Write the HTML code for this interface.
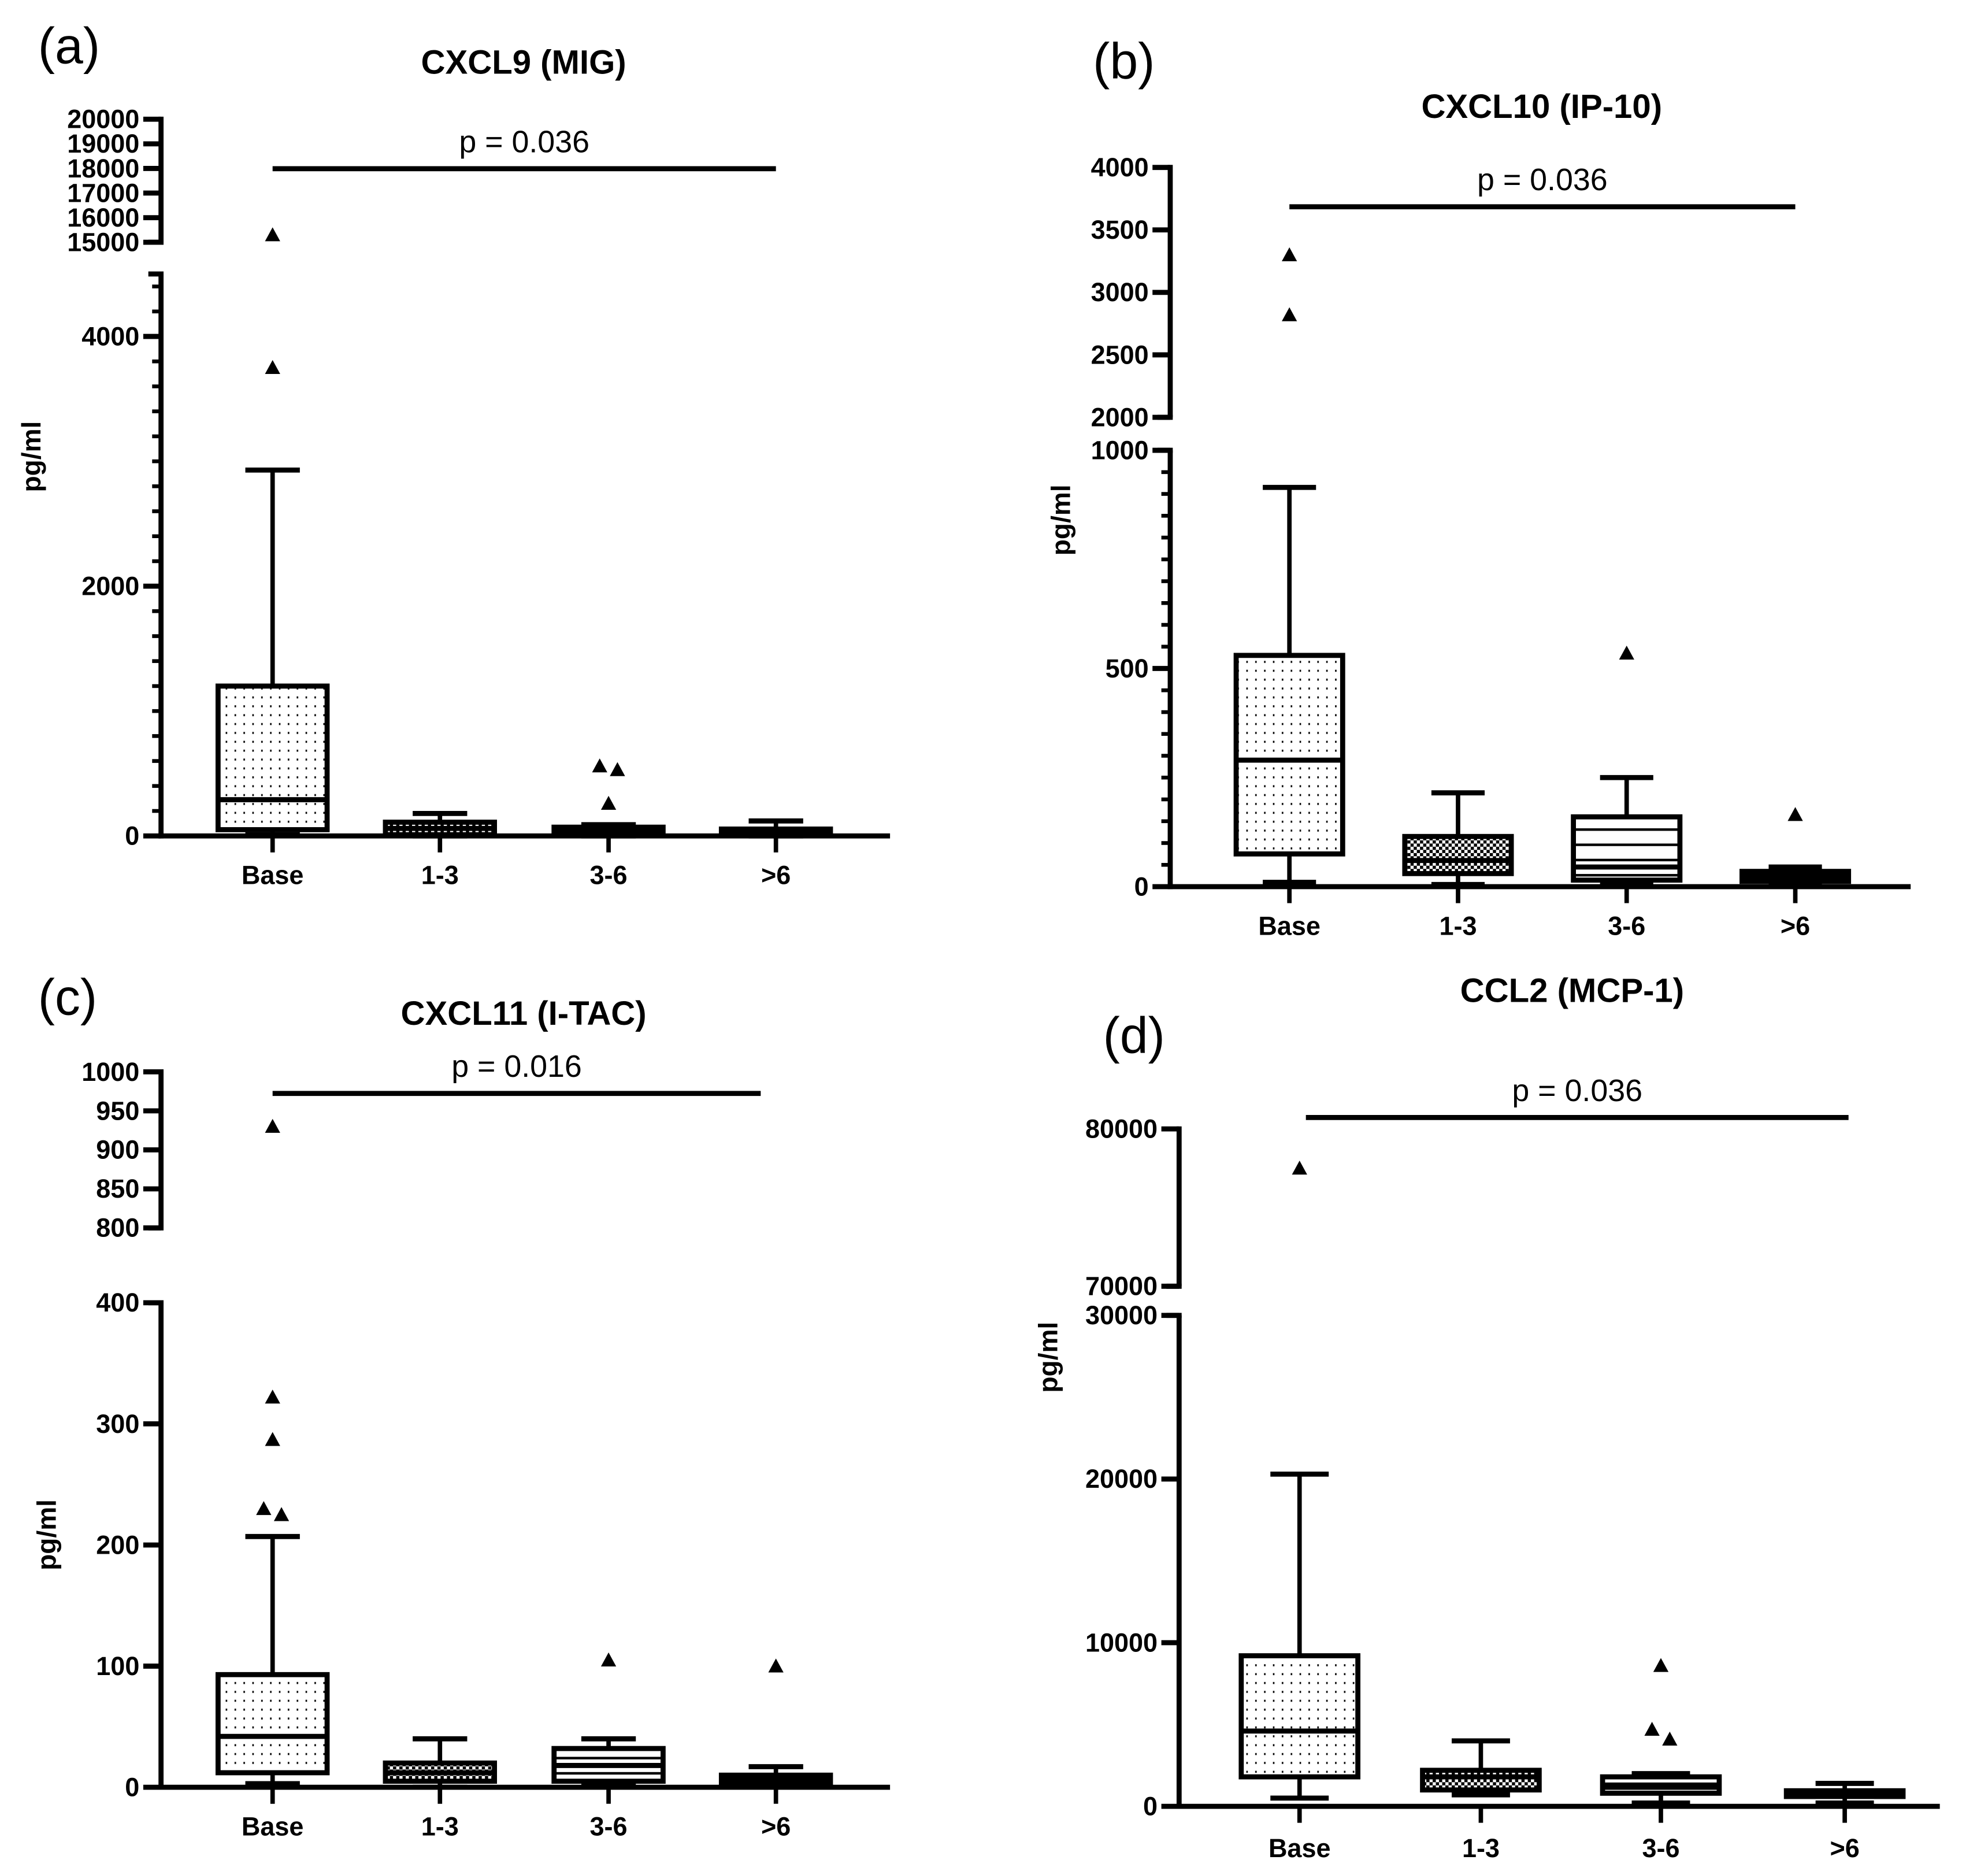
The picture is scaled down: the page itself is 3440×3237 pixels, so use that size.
<!DOCTYPE html>
<html><head><meta charset="utf-8">
<style>
html,body{margin:0;padding:0;background:#fff;}
svg{display:block;}
text{font-family:"Liberation Sans",Arial,sans-serif;fill:#000;}
.b{font-weight:bold;}
</style></head>
<body>
<svg id="fig" width="3440" height="3237" viewBox="0 0 1568 1475" preserveAspectRatio="none" xmlns="http://www.w3.org/2000/svg">
<defs>
<pattern id="dots" patternUnits="userSpaceOnUse" width="7" height="7"><rect width="7" height="7" fill="#fff"/><rect x="3" y="3" width="1.2" height="1.6" fill="#000"/></pattern>
<pattern id="check" patternUnits="userSpaceOnUse" width="5" height="5"><rect width="5" height="5" fill="#000"/><rect x="0" y="0" width="2.5" height="2.5" fill="#fff"/><rect x="2.5" y="2.5" width="2.5" height="2.5" fill="#fff"/></pattern>
<pattern id="hlines" patternUnits="userSpaceOnUse" width="10" height="12"><rect width="10" height="12" fill="#fff"/><rect y="5" width="10" height="2" fill="#000"/></pattern>
<pattern id="solid" patternUnits="userSpaceOnUse" width="4" height="4"><rect width="4" height="4" fill="#000"/></pattern>
</defs>
<g id="root"></g>
</svg>
<script>
const categories = ["Base","1-3","3-6",">6"];
const fills = ["dots","check","hlines","solid"];
// panel a: CXCL9
const aMin=[10,0,0,0], aQ1=[50,10,5,10], aMed=[290,60,40,30], aQ3=[1200,110,70,55], aMax=[2930,180,90,120];
const aOut=[[3750,15300],[],[560,530,260],[]];
// panel b: CXCL10
const bMin=[10,5,8,5], bQ1=[75,30,15,12], bMed=[290,60,45,25], bQ3=[530,115,160,35], bMax=[915,215,250,45];
const bOut=[[2820,3300],[],[535],[165]];
// panel c: CXCL11
const cMin=[3,0,1,0], cQ1=[12,5,5,2], cMed=[42,12,18,5], cQ3=[93,20,32,10], cMax=[207,40,40,17];
const cOut=[[225,230,287,322,930],[],[105],[100]];
// panel d: CCL2
const dMin=[500,700,200,200], dQ1=[1800,1000,800,600], dMed=[4600,1800,1300,800], dQ3=[9200,2200,1800,950], dMax=[20300,4000,2000,1400];
const dOut=[[77500],[],[8600,4700,4100],[]];
const aTicksLow=[0,2000,4000], aTicksHigh=[15000,16000,17000,18000,19000,20000];
const bTicksLow=[0,500,1000], bTicksHigh=[2000,2500,3000,3500,4000];
const cTicksLow=[0,100,200,300,400], cTicksHigh=[800,850,900,950,1000];
const dTicksLow=[0,10000,20000,30000], dTicksHigh=[70000,80000];
const titles=["CXCL9 (MIG)","CXCL10 (IP-10)","CXCL11 (I-TAC)","CCL2 (MCP-1)"];
const pvals=["p = 0.036","p = 0.036","p = 0.016","p = 0.036"];

const NS="http://www.w3.org/2000/svg";
const root=document.getElementById('root');
function mk(tag,attrs,parent){const e=document.createElementNS(NS,tag);for(const k in attrs)e.setAttribute(k,attrs[k]);(parent||root).appendChild(e);return e;}

const panels=[
 {id:'a',label:'(a)',lx:30,ly:50,ax:127,xEnd:702,cx:[215,347,480,612],hw:43,
  low:{v0:0,v1:4500,y0:659,y1:216},high:{v0:15000,v1:20000,y0:191,y1:94},
  tl:aTicksLow,th:aTicksHigh,minor:200,tx:413,ty:58,py:133,pl:[215,612],
  yt:{x:32,y:360},catY:697,data:[aMin,aQ1,aMed,aQ3,aMax,aOut]},
 {id:'b',label:'(b)',lx:862,ly:62,ax:923,xEnd:1507,cx:[1017,1150,1283,1416],hw:42,
  low:{v0:0,v1:1000,y0:699,y1:355},high:{v0:2000,v1:4000,y0:329,y1:132},
  tl:bTicksLow,th:bTicksHigh,minor:50,tx:1216,ty:93,py:163,pl:[1017,1416],
  yt:{x:844,y:410},catY:737,data:[bMin,bQ1,bMed,bQ3,bMax,bOut]},
 {id:'c',label:'(c)',lx:30,ly:800,ax:127,xEnd:702,cx:[215,347,480,612],hw:43,
  low:{v0:0,v1:400,y0:1409,y1:1027},high:{v0:800,v1:1000,y0:968,y1:845},
  tl:cTicksLow,th:cTicksHigh,minor:0,tx:413,ty:808,py:862,pl:[215,600],
  yt:{x:44,y:1210},catY:1447,data:[cMin,cQ1,cMed,cQ3,cMax,cOut]},
 {id:'d',label:'(d)',lx:870,ly:830,ax:930,xEnd:1530,cx:[1025,1168,1310,1455],hw:46,
  low:{v0:0,v1:30000,y0:1424,y1:1037},high:{v0:70000,v1:80000,y0:1014,y1:890},
  tl:dTicksLow,th:dTicksHigh,minor:0,tx:1240,ty:790,py:881,pl:[1030,1458],
  yt:{x:834,y:1070},catY:1464,data:[dMin,dQ1,dMed,dQ3,dMax,dOut]}
];

panels.forEach((P,pi)=>{
 const g=mk('g',{});
 
 
 const y=v=>{const s=v<=P.low.v1?P.low:P.high;return s.y0+(v-s.v0)*(s.y1-s.y0)/(s.v1-s.v0);};
 let t=mk('text',{x:P.lx,y:P.ly,'font-size':40},g);t.textContent=P.label;
 
 
 t=mk('text',{x:P.tx,y:P.ty,'font-size':26.5,'text-anchor':'middle',class:'b'},g);t.textContent=titles[pi];
 
 
 t=mk('text',{x:P.yt.x,y:P.yt.y,'font-size':21,'text-anchor':'middle',class:'b',transform:`rotate(-90 ${P.yt.x} ${P.yt.y})`},g);t.textContent='pg/ml';
 
 
 let l=mk('line',{x1:P.ax,x2:P.ax,y1:P.low.y0+2,y2:P.low.y1,stroke:'#000','stroke-width':4},g);
 
 
 l=mk('line',{x1:P.ax,x2:P.ax,y1:P.high.y0,y2:P.high.y1-2,stroke:'#000','stroke-width':4},g);
 
 
 mk('line',{x1:P.ax-10,x2:P.ax+2,y1:P.low.y1,y2:P.low.y1,stroke:'#000','stroke-width':4},g);
 mk('line',{x1:P.ax-10,x2:P.ax+2,y1:P.high.y0,y2:P.high.y0,stroke:'#000','stroke-width':4},g);
 l=mk('line',{x1:P.ax-2,x2:P.xEnd,y1:P.low.y0,y2:P.low.y0,stroke:'#000','stroke-width':4},g);
 
 
 if(P.minor){for(let v=P.minor;v<P.low.v1;v+=P.minor){if(P.tl.indexOf(v)<0)mk('line',{x1:P.ax-7,x2:P.ax,y1:y(v),y2:y(v),stroke:'#000','stroke-width':3},g);}}
 P.tl.concat(P.th).forEach(v=>{
  mk('line',{x1:P.ax-14,x2:P.ax,y1:y(v),y2:y(v),stroke:'#000','stroke-width':4},g);
  const tt=mk('text',{x:P.ax-17,y:y(v)+7,'font-size':20.5,'text-anchor':'end',class:'b'},g);tt.textContent=v;
  
  
 });
 l=mk('line',{x1:P.pl[0],x2:P.pl[1],y1:P.py,y2:P.py,stroke:'#000','stroke-width':4},g);
 
 
 t=mk('text',{x:(P.pl[0]+P.pl[1])/2,y:P.py-13,'font-size':24.5,'text-anchor':'middle'},g);t.textContent=pvals[pi];
 
 
 const [mn,q1,md,q3,mx,out]=P.data;
 categories.forEach((c,i)=>{
  const x=P.cx[i],hw=P.hw;
  mk('line',{x1:x,x2:x,y1:P.low.y0,y2:P.low.y0+13,stroke:'#000','stroke-width':3.5},g);
  const ct=mk('text',{x:x,y:P.catY,'font-size':20.5,'text-anchor':'middle',class:'b'},g);ct.textContent=c;
  
  
  const bx=mk('g',{},g);
  
  
  mk('line',{x1:x,x2:x,y1:y(mn[i]),y2:y(mx[i]),stroke:'#000','stroke-width':3.5},bx);
  mk('line',{x1:x-hw/2,x2:x+hw/2,y1:y(mx[i]),y2:y(mx[i]),stroke:'#000','stroke-width':4},bx);
  mk('line',{x1:x-hw/2,x2:x+hw/2,y1:y(mn[i]),y2:y(mn[i]),stroke:'#000','stroke-width':4},bx);
  const top=y(q3[i]),bot=y(q1[i]);
  mk('rect',{x:x-hw,y:top,width:2*hw,height:Math.max(bot-top,1),fill:`url(#${fills[i]})`,stroke:'#000','stroke-width':4},bx);
  mk('line',{x1:x-hw,x2:x+hw,y1:y(md[i]),y2:y(md[i]),stroke:'#000','stroke-width':4},bx);
  out[i].forEach((v,k)=>{
   let off=0;
   out[i].forEach((w,j)=>{ if(j!==k && Math.abs(y(w)-y(v))<12){ off = (y(v)>y(w)) ? 7 : -7; if(y(v)===y(w)) off = j<k?7:-7; } });
   const yy=y(v),xx=x+off;
   const tri=mk('polygon',{points:`${xx-6},${yy+5} ${xx+6},${yy+5} ${xx},${yy-6}`,fill:'#000'},bx);
   
   
  });
 });
});
</script>
</body></html>
